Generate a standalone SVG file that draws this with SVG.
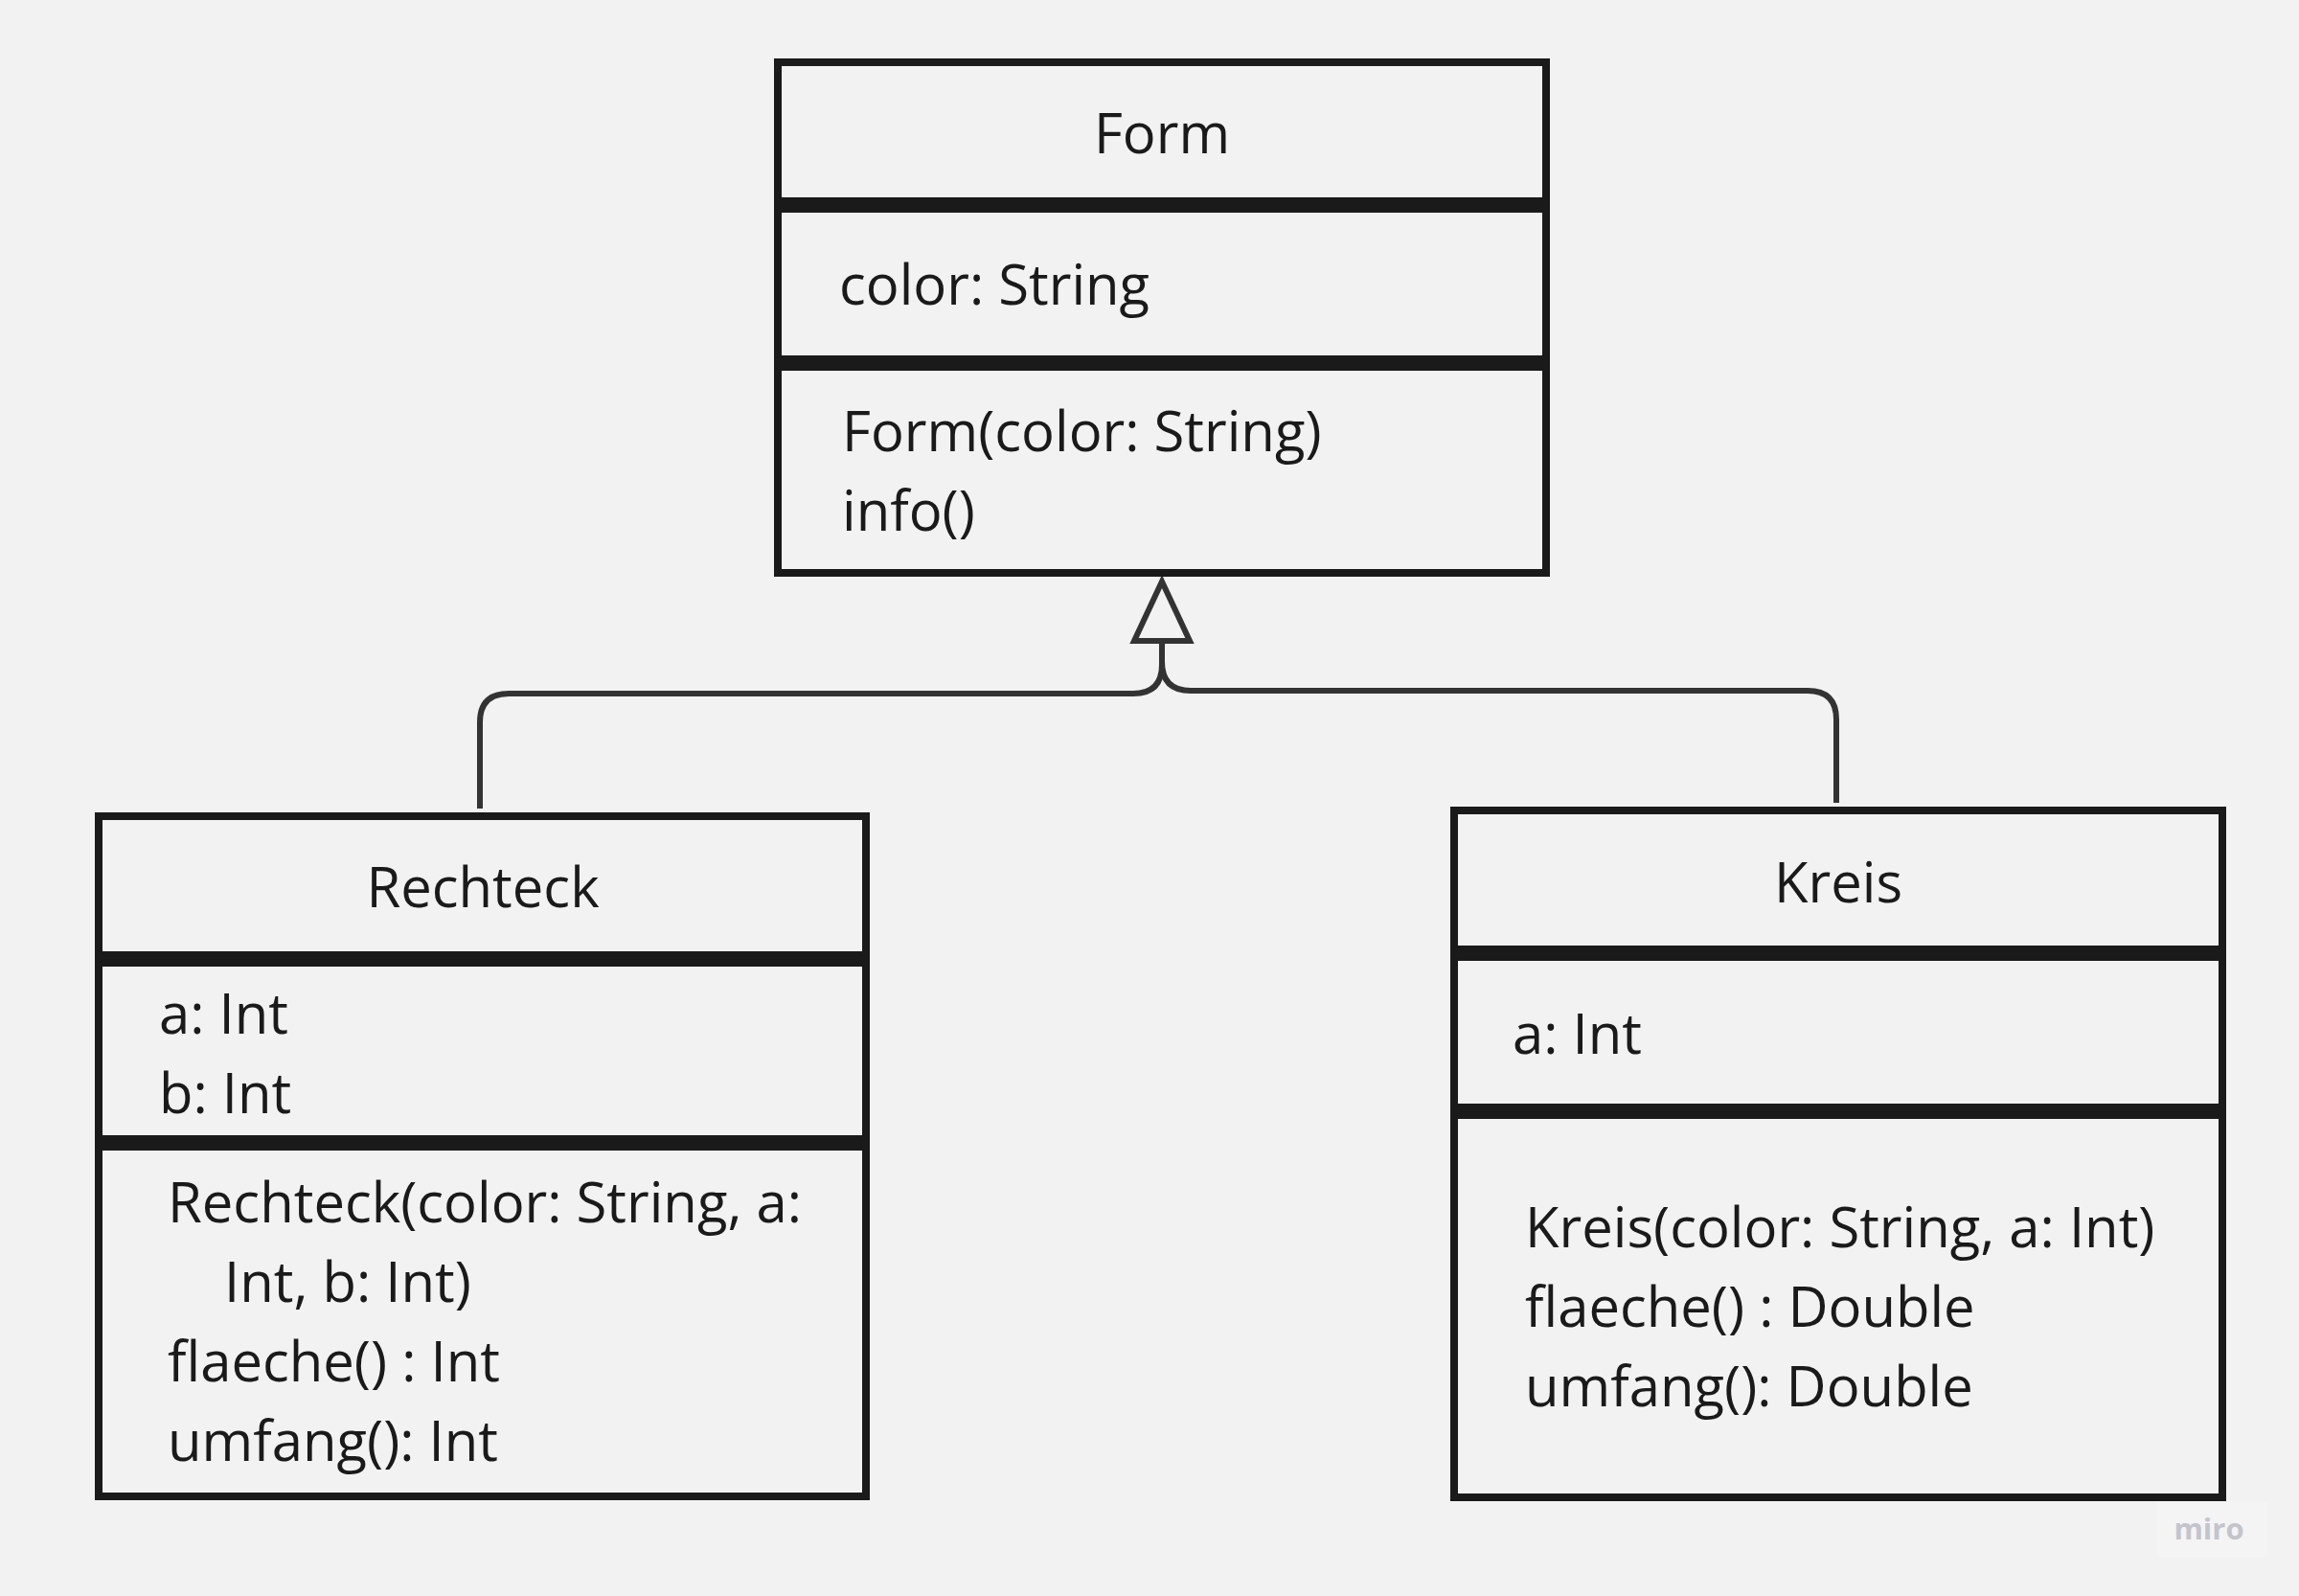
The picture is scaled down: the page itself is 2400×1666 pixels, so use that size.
<svg xmlns="http://www.w3.org/2000/svg" width="2400" height="1666" viewBox="0 0 2400 1666">
<style>
.box{fill:#f2f2f2;stroke:#1a1a1a;stroke-width:8}
.div{stroke:#1a1a1a;stroke-width:16}
.t{font-family:"Open Sans","Noto Sans",sans-serif;font-size:58px;fill:#1a1a1a}
.c{text-anchor:middle}
.conn{fill:none;stroke:#333333;stroke-width:6}
</style>
<rect x="0" y="0" width="2400" height="1666" fill="#f2f2f2"/>
<g id="connectors">
<path class="conn" d="M 501 844 L 501 754 Q 501 724 531 724 L 1183 724 Q 1213 724 1213 694 L 1213 672"/>
<path class="conn" d="M 1917 838 L 1917 751 Q 1917 721 1887 721 L 1243 721 Q 1213 721 1213 691 L 1213 672"/>
<polygon points="1213,607 1184,669 1242,669" fill="#f2f2f2" stroke="#333333" stroke-width="6" stroke-linejoin="miter"/>
</g>
<g id="form">
<rect class="box" x="812" y="65" width="802" height="533"/>
<line class="div" x1="812" y1="214" x2="1614" y2="214"/>
<line class="div" x1="812" y1="379" x2="1614" y2="379"/>
<text class="t c" x="1213" y="160">Form</text>
<text class="t" x="876" y="318">color: String</text>
<text class="t" x="879" y="471">Form(color: String)</text>
<text class="t" x="879" y="554">info()</text>
</g>
<g id="rechteck">
<rect class="box" x="103" y="852" width="801" height="710"/>
<line class="div" x1="103" y1="1001" x2="904" y2="1001"/>
<line class="div" x1="103" y1="1193" x2="904" y2="1193"/>
<text class="t c" x="504" y="947">Rechteck</text>
<text class="t" x="166" y="1079">a: Int</text>
<text class="t" x="166" y="1162">b: Int</text>
<text class="t" x="175" y="1276">Rechteck(color: String, a:</text>
<text class="t" x="234" y="1359">Int, b: Int)</text>
<text class="t" x="175" y="1442">flaeche() : Int</text>
<text class="t" x="175" y="1525">umfang(): Int</text>
</g>
<g id="kreis">
<rect class="box" x="1518" y="846" width="802" height="717"/>
<line class="div" x1="1518" y1="995" x2="2320" y2="995"/>
<line class="div" x1="1518" y1="1160" x2="2320" y2="1160"/>
<text class="t c" x="1919" y="942">Kreis</text>
<text class="t" x="1579" y="1100">a: Int</text>
<text class="t" x="1592" y="1302">Kreis(color: String, a: Int)</text>
<text class="t" x="1592" y="1385">flaeche() : Double</text>
<text class="t" x="1592" y="1468">umfang(): Double</text>
</g>
<g id="watermark">
<rect x="2252" y="1568" width="115" height="57" fill="#f4f4f4"/>
<text x="2306" y="1607" text-anchor="middle" font-family="'Open Sans','Noto Sans',sans-serif" font-weight="bold" font-size="31" fill="#c4c4cc">miro</text>
</g>
</svg>
